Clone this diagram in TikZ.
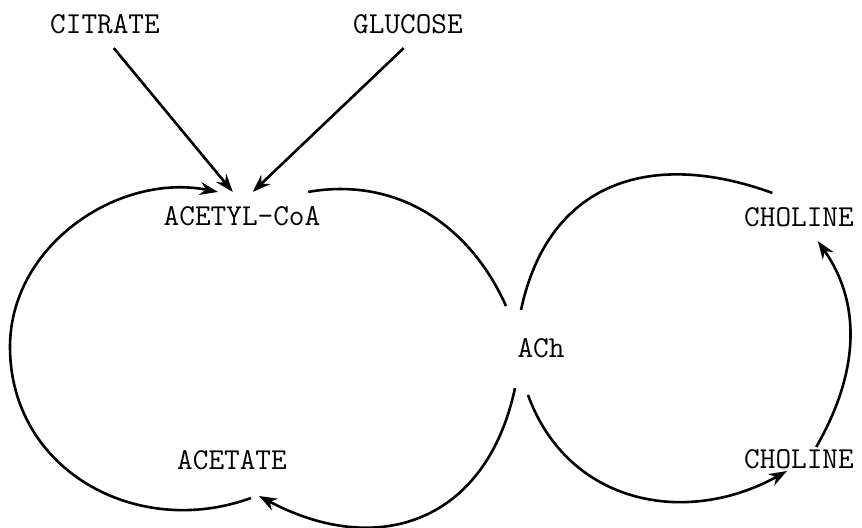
\documentclass[tikz,border=0pt]{standalone}
\usepackage{fontspec}
\usetikzlibrary{arrows.meta}
\tikzset{metab/.style={font=\fontsize{15.2}{18}\selectfont\ttfamily, inner xsep=2pt, inner ysep=#1}, metab/.default=1pt}
\tikzset{link/.style={line width=1.3pt}}
\tikzset{flow/.style={link, -{Stealth[length=9pt, width=6.5pt]}}}

\begin{document}
\begin{tikzpicture}[x=0.5pt, y=0.5pt]
\useasboundingbox (0,0) rectangle (862,527);

\node[metab=7pt] (citrate) at (105,503) {CITRATE};
\node[metab=7pt] (glucose) at (408,503) {GLUCOSE};
\node[metab=7pt] (acoa) at (242,311) {ACETYL-CoA};
\node[metab] (ach) at (541,179) {ACh};
\node[metab] (acetate) at (232,67) {ACETATE};
\node[metab=7pt] (cholT) at (799,310) {CHOLINE};
\node[metab] (cholB) at (799,68) {CHOLINE};

\coordinate (lw) at (10,180);
\coordinate (acet-a) at (251,29);
\coordinate (acet-b) at (259,31);
\coordinate (ach-nw) at (506,221);
\coordinate (ach-sw) at (515,139);
\coordinate (ach-ne) at (521,217);
\coordinate (ach-se) at (528,132);

% sources
\draw[flow] (citrate.-70) -- (acoa.111);
\draw[flow] (glucose.-100) -- (acoa.66);

% left cycle
\draw[flow] (acet-a) to[out=200, in=-90, looseness=1.1] (lw) to[out=90, in=169] (acoa.135);
\draw[link] (acoa.20) to[out=10, in=114] (ach-nw);
\draw[flow] (ach-sw) to[out=258, in=-28, looseness=1.25] (acet-b);

% right cycle
\draw[link] (cholT.138) to[out=160, in=78, looseness=1.2] (ach-ne);
\draw[flow] (ach-se) to[out=-70, in=209, looseness=1.1] (cholB.-135);
\draw[flow] (cholB.35) to[out=60, in=-55] (cholT.-52);
\end{tikzpicture}
\end{document}
